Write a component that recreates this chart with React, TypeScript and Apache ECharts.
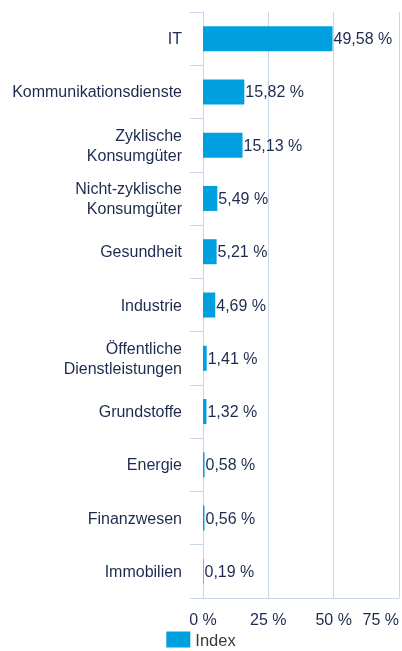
import React, { useEffect, useRef } from "react";
import * as echarts from "echarts";

const categories = [
  "IT",
  "Kommunikationsdienste",
  "Zyklische\nKonsumgüter",
  "Nicht-zyklische\nKonsumgüter",
  "Gesundheit",
  "Industrie",
  "Öffentliche\nDienstleistungen",
  "Grundstoffe",
  "Energie",
  "Finanzwesen",
  "Immobilien",
];
const values = [49.58, 15.82, 15.13, 5.49, 5.21, 4.69, 1.41, 1.32, 0.58, 0.56, 0.19];
const seriesName = "Index";
const xTicks = [0, 25, 50, 75];

const fmt = (v: number) => v.toFixed(2).replace(".", ",") + " %";

export default function App() {
  const ref = useRef<HTMLDivElement>(null);
  useEffect(() => {
    if (!ref.current) return;
    const chart = echarts.init(ref.current, undefined, { renderer: "svg" });
    const font = "Liberation Sans, Arial, Helvetica, sans-serif";
    const navy = "#1d2b4f";
    const lineCol = "#c9d6e6";
    chart.setOption({
      animation: false,
      textStyle: { fontFamily: font },
      grid: { left: 203, right: 1, top: 12, bottom: 53, containLabel: false },
      legend: {
        data: [seriesName],
        bottom: -2,
        left: "center",
        itemWidth: 24,
        itemHeight: 16,
        icon: "rect",
        textStyle: { fontSize: 16.5, color: "#3a3a3a", fontFamily: font },
      },
      xAxis: {
        type: "value",
        min: xTicks[0],
        max: xTicks[xTicks.length - 1],
        interval: 25,
        axisLine: { show: true, lineStyle: { color: lineCol } },
        axisTick: { show: false },
        splitLine: { show: true, lineStyle: { color: lineCol, width: 1 } },
        axisLabel: {
          color: navy,
          fontSize: 16,
          margin: 13,
          alignMaxLabel: "right",
          formatter: (v: number) => v + " %",
        },
      },
      yAxis: {
        type: "category",
        data: categories,
        inverse: true,
        axisLine: { show: true, lineStyle: { color: lineCol } },
        axisTick: { show: true, length: 13, lineStyle: { color: lineCol } },
        axisLabel: {
          color: navy,
          fontSize: 16,
          margin: 21,
          lineHeight: 20,
          align: "right",
        },
      },
      series: [
        {
          name: seriesName,
          type: "bar",
          data: values,
          barWidth: 25,
          itemStyle: { color: "#009fdf" },
          label: {
            show: true,
            position: "right",
            distance: 1,
            color: navy,
            fontSize: 16,
            formatter: (p: any) => fmt(p.value),
          },
        },
      ],
    });
    return () => chart.dispose();
  }, []);
  return (
    <div
      ref={ref}
      style={{ position: "fixed", left: 0, top: 0, width: 402, height: 651 }}
    />
  );
}
